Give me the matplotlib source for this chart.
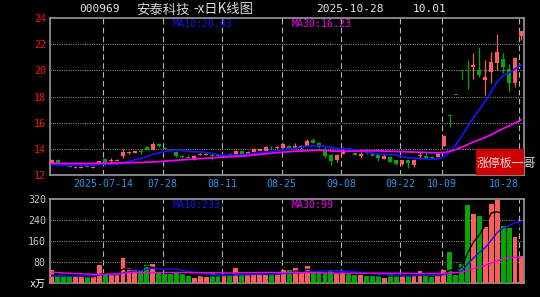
#!/usr/bin/env python3
"""Daily K-line chart of 000969 with MA10/MA30 and a volume panel."""
import numpy as np
import pandas as pd
import matplotlib
matplotlib.use("Agg")
import matplotlib.pyplot as plt
from matplotlib.patches import Rectangle

W, H = 540, 297
UP = "#FF5C5C"
DOWN = "#00A800"
MA10_C = "#1414F5"
MA30_C = "#F000F0"
GRID_C = "#8C8C8C"
VLINE_C = "#B4B4B4"
DATE_C = "#2C96E8"
SPINE_C = "#9A9A9A"
MONO = "DejaVu Sans Mono"
CJK = ["Noto Sans CJK SC", "DejaVu Sans"]

# trading days 2025-07-01 .. 2025-10-28, National Day break removed
days = pd.bdate_range("2025-07-01", "2025-10-28")
days = days[(days < "2025-10-01") | (days > "2025-10-08")]

opens = [12.94, 13.20, 12.88, 12.68, 12.55, 12.58, 12.70, 12.56, 12.84, 13.22,
         13.10, 13.12, 13.45, 13.70, 13.72, 13.80, 14.15, 13.92, 14.37, 14.09,
         13.96, 13.78, 13.45, 13.40, 13.20, 13.55, 13.55, 13.48, 13.52, 13.50,
         13.63, 13.58, 13.83, 13.63, 13.78, 13.84, 13.84, 14.10, 14.05, 14.10,
         14.24, 14.10, 14.05, 14.25, 14.73, 14.50, 13.96, 13.58, 13.15, 13.66,
         14.05, 13.73, 13.48, 13.75, 13.73, 13.58, 13.27, 13.40, 13.15, 12.84,
         13.15, 12.76, 13.50, 13.48, 13.42, 13.40, 14.22, 16.52, 18.17, 19.99,
         20.05, 20.28, 20.03, 19.26, 19.90, 20.60, 20.92, 20.10, 19.09, 22.63]
highs = [13.25, 13.25, 12.95, 12.75, 12.70, 12.68, 12.75, 12.66, 13.10, 13.25,
         13.30, 13.20, 14.00, 13.85, 13.85, 13.95, 14.20, 14.50, 14.42, 14.15,
         14.00, 13.85, 13.55, 13.50, 13.50, 13.65, 13.65, 13.66, 13.58, 13.58,
         13.66, 13.88, 13.86, 13.85, 14.05, 14.10, 14.20, 14.20, 14.20, 14.48,
         14.30, 14.42, 14.30, 14.75, 14.80, 14.55, 14.25, 13.62, 13.58, 14.15,
         14.10, 13.78, 13.72, 13.85, 13.78, 13.62, 13.58, 13.45, 13.18, 13.18,
         13.18, 13.25, 13.78, 13.73, 13.45, 13.70, 15.02, 16.52, 18.17, 19.99,
         20.80, 21.30, 21.76, 20.80, 21.43, 22.76, 21.30, 20.49, 21.04, 23.02]
lows = [12.90, 12.90, 12.75, 12.58, 12.50, 12.52, 12.58, 12.50, 12.80, 12.95,
        13.00, 13.05, 13.30, 13.62, 13.68, 13.62, 13.88, 13.88, 14.15, 13.95,
        13.80, 13.40, 13.30, 13.28, 13.15, 13.50, 13.50, 13.15, 13.40, 13.45,
        13.50, 13.55, 13.55, 13.60, 13.75, 13.80, 13.80, 13.90, 14.00, 14.05,
        14.00, 14.05, 14.00, 14.20, 14.45, 14.10, 13.32, 12.80, 12.97, 13.60,
        13.85, 13.50, 13.27, 13.62, 13.45, 13.07, 13.22, 13.00, 12.80, 12.80,
        12.56, 12.63, 13.27, 13.20, 13.30, 13.38, 14.20, 15.67, 18.17, 19.30,
        18.60, 19.30, 19.50, 18.10, 19.00, 20.03, 19.78, 18.37, 18.75, 22.32]
closes = [13.20, 12.95, 12.80, 12.62, 12.65, 12.62, 12.64, 12.62, 13.07, 12.98,
          13.15, 13.15, 13.78, 13.75, 13.82, 13.76, 13.92, 14.37, 14.20, 14.00,
          13.85, 13.50, 13.40, 13.35, 13.45, 13.60, 13.60, 13.45, 13.48, 13.53,
          13.53, 13.83, 13.58, 13.80, 13.98, 14.02, 14.16, 14.05, 14.15, 14.40,
          14.04, 14.20, 14.25, 14.60, 14.50, 14.17, 13.50, 13.07, 13.53, 14.09,
          13.90, 13.55, 13.66, 13.70, 13.50, 13.30, 13.50, 13.05, 12.85, 13.15,
          12.90, 13.20, 13.55, 13.25, 13.35, 13.66, 15.02, 16.52, 18.17, 19.99,
          19.98, 20.41, 19.65, 19.50, 20.66, 21.43, 20.28, 19.06, 20.93, 23.02]
ma10 = [12.78, 12.77, 12.76, 12.75, 12.75, 12.75, 12.76, 12.77, 12.79, 12.82,
        12.81, 12.83, 12.93, 13.04, 13.16, 13.27, 13.40, 13.58, 13.69, 13.79,
        13.86, 13.90, 13.86, 13.82, 13.78, 13.76, 13.73, 13.64, 13.57, 13.52,
        13.49, 13.52, 13.54, 13.59, 13.64, 13.68, 13.74, 13.80, 13.86, 13.95,
        14.00, 14.04, 14.11, 14.19, 14.24, 14.25, 14.19, 14.09, 14.03, 14.00,
        13.98, 13.92, 13.86, 13.77, 13.67, 13.58, 13.58, 13.58, 13.51, 13.42,
        13.32, 13.28, 13.27, 13.23, 13.21, 13.25, 13.40, 13.75, 14.28, 14.96,
        15.67, 16.39, 17.00, 17.63, 18.36, 19.13, 19.60, 19.82, 20.10, 20.43]
ma30 = [12.89, 12.89, 12.88, 12.88, 12.88, 12.88, 12.88, 12.88, 12.89, 12.90,
        12.90, 12.92, 12.93, 12.94, 12.95, 12.96, 12.98, 13.00, 13.02, 13.06,
        13.09, 13.12, 13.16, 13.19, 13.22, 13.25, 13.28, 13.31, 13.34, 13.38,
        13.39, 13.42, 13.44, 13.48, 13.53, 13.57, 13.62, 13.67, 13.71, 13.75,
        13.78, 13.82, 13.83, 13.86, 13.89, 13.90, 13.88, 13.84, 13.82, 13.82,
        13.82, 13.83, 13.83, 13.85, 13.85, 13.84, 13.83, 13.82, 13.80, 13.79,
        13.77, 13.75, 13.74, 13.73, 13.70, 13.69, 13.72, 13.80, 13.94, 14.12,
        14.32, 14.53, 14.71, 14.87, 15.08, 15.32, 15.55, 15.75, 15.97, 16.23]

# volume, 10k shares
volume = [49, 30, 29, 22, 21, 25, 25, 25, 68, 36,
          36, 30, 97, 59, 49, 46, 68, 74, 38, 36,
          36, 38, 33, 26, 20, 26, 23, 42, 26, 26,
          28, 56, 36, 30, 33, 33, 33, 33, 33, 51,
          51, 56, 38, 64, 46, 46, 38, 46, 33, 46,
          33, 30, 30, 26, 26, 26, 20, 36, 27, 27,
          27, 30, 45, 27, 23, 26, 49, 119, 30, 72,
          296, 264, 257, 215, 302, 318, 219, 211, 177, 104]
vol_ma5 = [30, 30, 30, 29, 30.2, 25.4, 24.4, 23.6, 32.8, 35.8,
           38.0, 39.0, 53.4, 51.6, 54.2, 56.2, 63.8, 59.2, 55.0, 52.4,
           50.4, 44.4, 36.2, 33.8, 30.6, 28.6, 25.6, 27.4, 27.4, 28.6,
           29.0, 35.6, 34.4, 35.2, 36.6, 37.6, 33.0, 32.4, 33.0, 36.6,
           40.2, 44.8, 45.8, 52.0, 51.0, 50.0, 46.4, 48.0, 41.8, 41.8,
           39.2, 37.6, 34.4, 33.0, 29.0, 27.6, 25.6, 26.8, 27.0, 27.2,
           27.4, 29.4, 31.2, 31.2, 30.4, 30.2, 34.0, 48.8, 49.4, 59.2,
           113.2, 156.2, 183.8, 220.8, 266.8, 271.6, 262.6, 253.4, 245.8, 206.2]
vol_ma10 = [26, 26, 26, 26, 26, 27, 27, 28, 30, 33.0,
            31.7, 31.7, 38.5, 42.2, 45.0, 47.1, 51.4, 56.3, 53.3, 53.3,
            53.3, 54.1, 47.7, 44.4, 41.5, 39.5, 35.0, 31.8, 30.6, 29.6,
            28.8, 30.6, 30.9, 31.3, 32.6, 33.3, 34.3, 33.4, 34.1, 36.6,
            38.9, 38.9, 39.1, 42.5, 43.8, 45.1, 45.6, 46.9, 46.9, 46.4,
            44.6, 42.0, 41.2, 37.4, 35.4, 33.4, 31.6, 30.6, 30.0, 28.1,
            27.5, 27.5, 29.0, 29.1, 28.8, 28.8, 31.7, 40.0, 40.3, 44.8,
            71.7, 95.1, 116.3, 135.1, 163.0, 192.4, 209.4, 218.6, 230.0, 233.0]
vol_ma30 = [42, 40, 38, 37, 36, 35, 34, 33, 33, 33,
            34, 35, 37, 39, 40, 40, 40, 40, 40, 40,
            40, 40, 40, 40, 39, 39, 39, 39, 39, 38.6,
            37.9, 38.8, 39.0, 39.3, 39.7, 40.0, 40.2, 40.5, 39.3, 39.8,
            40.3, 41.2, 39.2, 39.4, 39.3, 39.3, 38.3, 37.4, 37.2, 37.5,
            37.4, 37.2, 37.1, 37.1, 37.3, 37.3, 37.2, 37.0, 37.0, 37.0,
            37.0, 36.1, 36.4, 36.3, 36.0, 35.8, 36.3, 39.2, 39.1, 39.8,
            47.9, 54.9, 62.2, 67.2, 75.7, 84.9, 90.9, 96.4, 98.5, 99.0]

tick_dates = ["2025-07-14", "2025-07-28", "2025-08-11", "2025-08-25",
              "2025-09-08", "2025-09-22", "2025-10-09", "2025-10-28"]
tick_labels = ["2025-07-14", "07-28", "08-11", "08-25",
               "09-08", "09-22", "10-09", "10-28"]
price_ticks = [12, 14, 16, 18, 20, 22, 24]
price_tick_labels = ["12", "14", "16", "18", "20", "22", "24"]
price_grid = [14, 16, 18, 20, 22]
vol_ticks = [0, 80, 160, 240, 320]
vol_tick_labels = ["x万", "80", "160", "240", "320"]
vol_grid = [80, 160, 240]


def px_axes(fig, left, top, right, bottom):
    return fig.add_axes([left / W, 1 - bottom / H, (right - left) / W, (bottom - top) / H])


def ftext(fig, x, y, s, **kw):
    fig.text(x / W, 1 - y / H, s, va="center", ha="left", **kw)


def style_axes(ax):
    ax.set_facecolor("black")
    for sp in ax.spines.values():
        sp.set_color(SPINE_C)
        sp.set_linewidth(1.2)
    ax.tick_params(length=0)


fig = plt.figure(figsize=(W / 100, H / 100), dpi=100, facecolor="black")
ax = px_axes(fig, 50, 18, 524, 175)
axv = px_axes(fig, 50, 199, 524, 283)
style_axes(ax)
style_axes(axv)

x = np.arange(len(days))
o = np.array(opens)
c = np.array(closes)
colors = np.where(c > o, UP, DOWN)
tick_pos = [days.get_loc(pd.Timestamp(d)) - 0.3 for d in tick_dates]

for a in (ax, axv):
    a.set_xlim(-0.29, 79.51)
    for t in tick_pos:
        a.axvline(t, color=VLINE_C, lw=0.8, dashes=(5, 3), zorder=1)

# price panel
for g in price_grid:
    ax.axhline(g, color=GRID_C, lw=0.75, dashes=(1, 1.2), zorder=1)
ax.vlines(x, lows, highs, colors=colors, lw=0.9, zorder=3)
body = np.maximum(np.abs(c - o), 0.07)
ax.bar(x, body, bottom=np.minimum(o, c) - 0.02, width=0.66, color=colors, lw=0, zorder=3)
ax.plot(x, ma10, color=MA10_C, lw=1.3, zorder=4)
ax.plot(x, ma30, color=MA30_C, lw=1.3, zorder=4)
ax.set_ylim(12, 24)
ax.set_yticks(price_ticks)
ax.set_yticklabels(price_tick_labels, color="#FF1010", fontfamily=MONO, fontsize=7.2)
ax.tick_params(axis="y", pad=3)
ax.set_xticks(tick_pos)
ax.set_xticklabels(tick_labels, color=DATE_C, fontfamily=MONO, fontsize=7.1)
ax.tick_params(axis="x", pad=3)
ax.get_xticklabels()[-1].set_ha("right")

ax.add_patch(Rectangle(((475.7 - 50) / 474, 0), (524 - 475.7) / 474, (175 - 149.3) / 157,
                       transform=ax.transAxes, color="#D00000", lw=0, zorder=6))

# volume panel
for g in vol_grid:
    axv.axhline(g, color=GRID_C, lw=0.75, dashes=(1, 1.2), zorder=1)
axv.bar(x, volume, width=0.82, color=colors, lw=0, zorder=3)
axv.plot(x, vol_ma5, color="black", lw=1.0, zorder=4)
axv.plot(x, vol_ma10, color=MA10_C, lw=1.0, zorder=4)
axv.plot(x, vol_ma30, color=MA30_C, lw=1.0, zorder=4)
axv.set_ylim(0, 320)
axv.set_yticks(vol_ticks)
axv.set_yticklabels(vol_tick_labels, color="#C8C8C8", fontfamily=MONO, fontsize=7.2)
axv.tick_params(axis="y", pad=3)
unit = axv.get_yticklabels()[0]
unit.set_fontfamily([MONO, "Noto Sans CJK SC"])
unit.set_color("white")
axv.set_xticks([])

# header and MA captions
ftext(fig, 79, 9.5, "000969", color="#E6E6E6", fontfamily=MONO, fontsize=8)
ftext(fig, 136, 9.5, "安泰科技", color="#D8D8D8", fontfamily=CJK, fontsize=9.6)
ftext(fig, 193, 9.5, "-x日K线图", color="#D8D8D8", fontfamily=CJK, fontsize=9.6)
ftext(fig, 315.7, 9.5, days[-1].strftime("%Y-%m-%d"), color="#E6E6E6", fontfamily=MONO, fontsize=8)
ftext(fig, 412.7, 9.5, "10.01", color="#E6E6E6", fontfamily=MONO, fontsize=8)

ftext(fig, 172.7, 23.7, f"MA10:{ma10[-1]:.2f}", color=MA10_C, fontfamily=MONO, fontsize=7.1)
ftext(fig, 291.7, 23.7, f"MA30:{ma30[-1]:.2f}", color=MA30_C, fontfamily=MONO, fontsize=7.1)
ftext(fig, 172.7, 204.7, f"MA10:{vol_ma10[-1]:.0f}", color=MA10_C, fontfamily=MONO, fontsize=7.1)
ftext(fig, 291.7, 204.7, f"MA30:{vol_ma30[-1]:.0f}", color=MA30_C, fontfamily=MONO, fontsize=7.1)

ftext(fig, 476.5, 163.8, "涨停板一哥", color="#E0E0E0", fontfamily=CJK, fontsize=8.6)

fig.savefig("out.png", dpi=100, facecolor="black")
